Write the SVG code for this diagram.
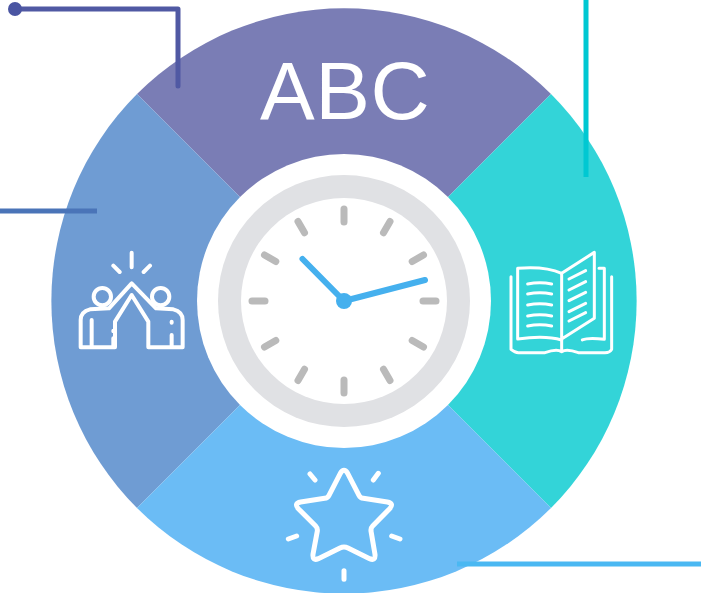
<svg xmlns="http://www.w3.org/2000/svg" width="701" height="593" viewBox="0 0 701 593">
<style>
.ico{fill:none;stroke:#fff;stroke-linecap:round;stroke-linejoin:round}
.tick{stroke:#bababa;stroke-width:7;stroke-linecap:round}
.hand{stroke:#45b0ee;stroke-width:6;stroke-linecap:round}
.conn{fill:none;stroke-width:5}
</style>
<rect width="701" height="593" fill="#fff"/>
<g id="segment-top"><path d="M137 94A293 293 0 0 1 551 94L344 301Z" fill="#7a7db5"/>
<text x="260" y="119" font-family="'Liberation Sans',Arial,sans-serif" font-size="82" letter-spacing="0.5" fill="#fff">ABC</text></g>
<g id="segment-left"><path d="M137 94A293 293 0 0 0 137 508L344 301Z" fill="#6f9cd3"/>
<g class="ico" stroke-width="12" transform="translate(60 240) scale(.3333)">
<path d="M215 38V82M160 77L179 96M270 77L251 96"/>
<circle cx="127" cy="170" r="26"/><circle cx="302" cy="170" r="26"/>
<path d="M62 322H165V245L215 165L265 245V322H368V240Q368 215 340 208L288 205L215 130L147 205L90 208Q62 215 62 240Z"/>
<path d="M95 240V318M335 285V318M160 272V274M160 295V318M335 245V248"/>
</g></g>
<g id="segment-right"><path d="M551 94A293 293 0 0 1 551 508L344 301Z" fill="#33d4d8"/>
<g class="ico" stroke-width="9" transform="translate(495 240) scale(.3333)">
<path d="M200 100Q150 78 68 85V297Q150 285 200 300"/>
<path d="M200 100L298 37V235L200 297Z"/>
<path d="M48 110V328Q60 338 70 338H150Q185 325 200 335Q215 325 250 338H330Q345 338 350 328V110M200 300V335"/>
<path d="M312 85H328V298Q280 292 262 300"/>
<path d="M98 132Q135 125 170 132M98 162Q135 155 170 162M98 195Q135 188 170 195M98 228Q135 221 170 228M98 258Q135 251 170 258"/>
<path d="M222 117L272 92M222 150L272 125M222 182L272 157M222 215L272 190M222 243L272 218"/>
</g></g>
<g id="segment-bottom"><path d="M137 508A293 293 0 0 0 551 508L344 301Z" fill="#6bbcf5"/>
<g class="ico" stroke-width="15" transform="translate(275 460) scale(.3333)">
<path d="M196 40Q207 22 218 40L252 106Q256 114 265 115L337 126Q358 130 344 146L293 198Q287 204 288 213L300 283Q302 304 284 296L219 264Q207 258 195 264L130 296Q112 304 114 283L127 213Q128 204 122 198L70 146Q56 130 77 126L149 115Q158 114 162 106Z"/>
<path d="M105 42L120 60M310 40L295 60M40 237L65 228M375 237L350 228M207 332V358"/>
</g></g>
<g id="clock">
<circle cx="344" cy="301" r="147" fill="#fff"/>
<circle cx="344" cy="301" r="126" fill="#e0e1e4"/>
<circle cx="344" cy="301" r="103" fill="#fff"/>
<g class="tick">
<path d="M344 209V222M344 380V393M252 301H265M423 301H436"/>
<path d="M298 221.500L304.500 232.800M383.500 369.200L390 380.500M390 221.500L383.500 232.800M304.500 369.200L298 380.500"/>
<path d="M264.500 255L275.800 261.500M412.200 340.500L423.500 347M423.500 255L412.200 261.500M275.800 340.500L264.500 347"/>
</g>
<path class="hand" d="M344 301L302.500 259M344 301L425 280"/>
<circle cx="344" cy="301" r="8" fill="#45b0ee"/>
</g>
<g id="connectors">
<path class="conn" d="M15 9H178V86" stroke="#5059a3" stroke-linecap="round" stroke-linejoin="round"/>
<circle cx="15" cy="9" r="7" fill="#4a55a2"/>
<path class="conn" d="M0 211H97" stroke="#4a74b8"/>
<path class="conn" d="M586 0V177" stroke="#00c8d2"/>
<path class="conn" d="M457 564H701" stroke="#4ab8f2"/>
</g>
</svg>
